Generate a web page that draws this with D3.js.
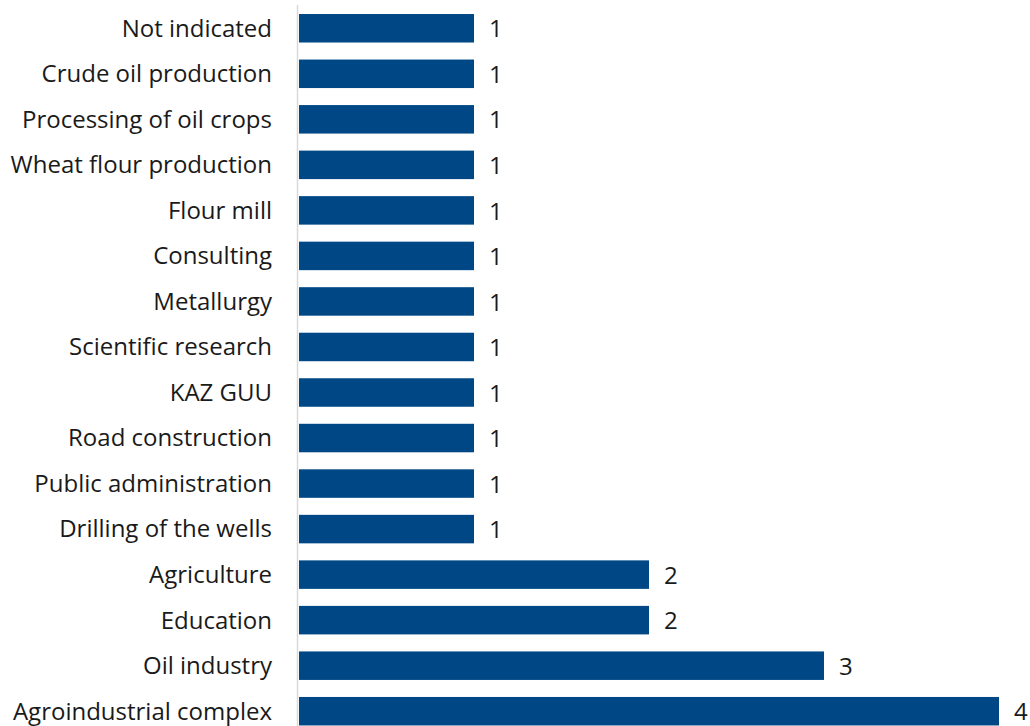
<!DOCTYPE html>
<html><head><meta charset="utf-8">
<script src="https://cdn.jsdelivr.net/npm/d3@7"></script>
<style>body{margin:0;background:#fff;overflow:hidden}svg{display:block}</style>
</head><body><svg id="c" width="1030" height="726"></svg>
<script>
const categories = ["Not indicated","Crude oil production","Processing of oil crops","Wheat flour production","Flour mill","Consulting","Metallurgy","Scientific research","KAZ GUU","Road construction","Public administration","Drilling of the wells","Agriculture","Education","Oil industry","Agroindustrial complex"];
const values = [1,1,1,1,1,1,1,1,1,1,1,1,2,2,3,4];

const svg = d3.select("#c");
const x0 = 299;
const x = d3.scaleLinear().domain([0,4]).range([x0, 999]);
const y = d3.scaleBand().domain(categories).range([5.5, 5.5 + 16*45.53]).paddingInner(0.374).paddingOuter(0.187);
const font = "'Open Sans', sans-serif";

svg.append("line").attr("x1",297.5).attr("x2",297.5).attr("y1",5).attr("y2",726)
  .attr("stroke","#d9d9d9").attr("stroke-width",1.5);

svg.selectAll("rect.bar").data(categories).join("rect").attr("class","bar")
  .attr("x", x0).attr("y", d=>y(d)).attr("height", y.bandwidth())
  .attr("width", (d,i)=>x(values[i])-x0).attr("fill","#004885");

svg.selectAll("text.cat").data(categories).join("text").attr("class","cat")
  .attr("x", 272).attr("y", d=>y(d)+y.bandwidth()/2).attr("dy","0.35em")
  .attr("text-anchor","end").attr("font-family",font).attr("font-size",24).attr("fill","#1a1a1a")
  .text(d=>d);

svg.selectAll("text.val").data(categories).join("text").attr("class","val")
  .attr("x", (d,i)=>x(values[i])+15).attr("y", d=>y(d)+y.bandwidth()/2).attr("dy","0.38em")
  .attr("font-family",font).attr("font-size",24).attr("fill","#1a1a1a")
  .text((d,i)=>values[i]);
</script></body></html>
